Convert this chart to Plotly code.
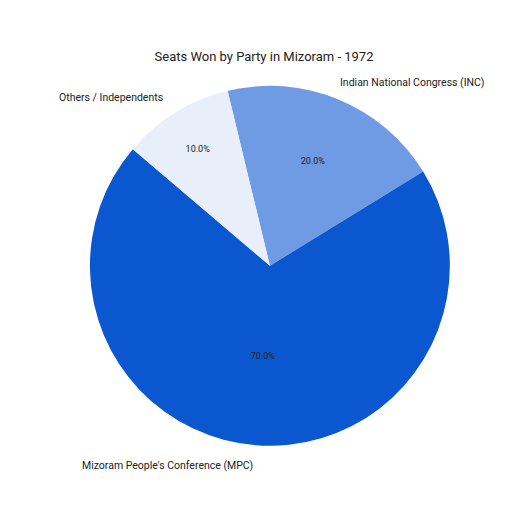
import plotly.graph_objects as go

labels = ["Indian National Congress (INC)", "Mizoram People's Conference (MPC)", "Others / Independents"]
values = [20, 70, 10]
colors = ["#6e9be3", "#0b57d0", "#e8eefa"]

fig = go.Figure(go.Pie(
    labels=labels, values=values, sort=False, direction="clockwise", rotation=-13.6,
    marker=dict(colors=colors, line=dict(width=0)),
    texttemplate="%{percent:.1%}", textposition="inside", insidetextorientation="horizontal",
    textfont=dict(size=9, color="#222222"), showlegend=False,
    domain=dict(x=[0.16, 0.863], y=[0.145, 0.848]),
))
ann = [(labels[0], 404/512, 1-74/512), (labels[1], 159/512, 1-457/512), (labels[2], 103/512, 1-89/512)]
fig.update_layout(
    width=512, height=512, margin=dict(l=0, r=0, t=0, b=0),
    paper_bgcolor="white", font=dict(family="Roboto", color="#222222"),
    title=dict(text="Seats Won by Party in Mizoram - 1972", x=0.5, y=1-48/512,
               xanchor="center", yanchor="middle", font=dict(size=13)),
    annotations=[dict(text=t, x=x, y=y, xref="paper", yref="paper", showarrow=False,
                      font=dict(size=10.5), xanchor="center", yanchor="middle") for t, x, y in ann],
)
fig.write_html("out.html")
